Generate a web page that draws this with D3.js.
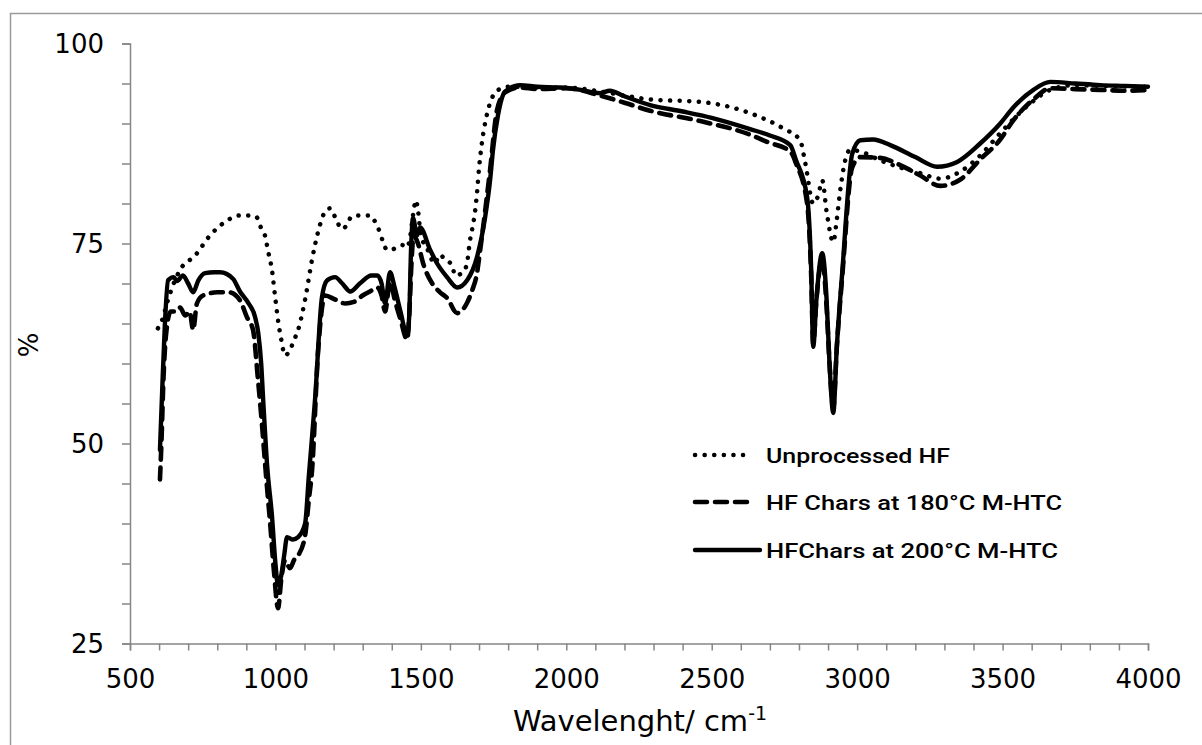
<!DOCTYPE html>
<html><head><meta charset="utf-8">
<script src="https://cdn.jsdelivr.net/npm/d3@7"></script>
<style>body{margin:0;background:#fff}svg{display:block}</style>
</head><body>
<svg id="c" width="1202" height="745"></svg>
<script>
// ---- data (wavenumber in cm-1, transmittance %) ----
const seriesNames = ["Unprocessed HF", "HF Chars at 180\u00B0C M-HTC", "HFChars at 200\u00B0C M-HTC"];

const unprocessedWn = [596,610,631,645,672,724,775,827,878,913,935,950,964,975,988,1000,1009,1020,1033,1050,1065,1078,1102,1126,1153,1171,1188,1205,1215,1230,1245,1260,1274,1300,1325,1336,1360,1370,1384,1405,1436,1453,1463,1473,1483,1490,1500,1520,1548,1565,1583,1607,1618,1645,1659,1669,1676,1687,1694,1700,1704,1731,1766,1807,1900,2000,2116,2200,2288,2461,2653,2745,2804,2822,2849,2866,2880,2895,2918,2930,2942,2959,2976,3011,3079,3148,3217,3286,3355,3423,3492,3595,3664,3750,3836,4000];
const unprocessedPct = [64.4,65.4,68,69.5,71.7,73.5,76,77.7,78.5,78.5,78.3,77,76,74,71.7,68,65.4,63,61,61.7,63,64.2,68,73,77.3,79,79.4,78.3,77.5,76.8,77.3,78.3,78.5,78.5,78.5,78.1,76.3,75.2,74.2,74.3,74.8,74.5,75.8,78.5,80.4,79.2,76,74.5,72.5,73.6,73,72.3,71,71.4,72.6,75.4,76.7,79.2,81.7,84.4,85.8,91.7,94.2,94.6,94.5,94.5,94,93.5,93,92.7,91,89.4,87.9,85,80,81,82.9,79,75.2,78,81.7,85.4,86.7,86.5,85.4,84.5,83.8,83.1,84,86,88.8,92.5,94.2,94.8,94.7,94.6];

const chars180Wn = [603,608,615,625,640,660,672,690,705,717,730,751,800,840,878,902,923,940,950,970,981,995,1009,1020,1033,1050,1065,1078,1102,1115,1126,1147,1171,1205,1240,1270,1300,1325,1350,1365,1377,1394,1410,1430,1453,1460,1467,1475,1490,1508,1539,1566,1590,1625,1659,1676,1693,1704,1738,1762,1790,1841,1900,2000,2116,2200,2288,2461,2632,2690,2770,2790,2828,2842,2849,2860,2880,2895,2905,2918,2930,2949,2983,3011,3079,3148,3217,3286,3355,3423,3492,3537,3606,3664,3750,3836,3920,4000];
const chars180Pct = [45.5,50,58,64,66.5,66.5,67,66,66.5,64.2,67.5,68.5,68.9,68.9,67.9,65.8,64.2,58,54,45,40.4,34,29.4,33,35.4,34.4,35.5,36,38.5,43,46.7,61.7,68.5,68,67.5,67.7,68.5,69,69.5,68.5,66.5,70.2,68,65.5,63,66,72,76,75,72.5,70,68.9,68.2,66.3,67.6,69.1,71.3,74.2,84.2,91.7,93.9,94.5,94.3,94.4,93.5,92.6,91.6,90.3,88.6,87.7,86.5,85,80,71,62.5,68,73,67,60,54.5,62,71,84.5,85.8,85.7,84.8,83.5,82.2,83,85.5,88,90.4,93,94.4,94.3,94.2,94.1,94.2];

const chars200Wn = [603,610,620,631,650,662,682,700,717,735,758,790,810,854,878,906,930,941,951,958,972,988,1000,1009,1020,1030,1040,1060,1078,1102,1115,1136,1160,1178,1205,1230,1257,1290,1330,1350,1365,1377,1394,1410,1430,1453,1460,1466,1473,1487,1497,1532,1556,1590,1625,1659,1693,1721,1738,1748,1765,1790,1841,1900,1979,2050,2116,2150,2200,2288,2400,2500,2632,2700,2770,2790,2828,2842,2849,2860,2880,2895,2905,2918,2930,2949,2983,3011,3055,3114,3200,3275,3344,3423,3492,3537,3606,3664,3750,3836,3920,4000];
const chars200Pct = [49.2,56,65,70.4,70.8,70.3,71,70,68.9,70.4,71.3,71.4,71.4,70.6,69,67.6,65.8,63.8,60,55.4,47,41,35,32.3,33.5,36,38.3,38,38.3,40,46,55.4,68.3,70.4,70.8,70,69,70,71,71,70,67.5,71.4,69.5,66.5,63.5,66,74,78.2,76,77,74.2,72.5,70.8,69.5,70.4,73.3,78.3,82.9,86.7,91,94,94.8,94.6,94.5,94.2,93.8,94.1,93.4,92.3,91.5,90.7,89.3,88.5,87.3,85.4,80.8,71.7,62.1,68,73.8,68,60,53.8,62,71.5,86.2,87.9,88,87.3,85.8,84.6,85.2,87.5,90,92,94.2,95.2,95,94.8,94.7,94.6];

const xTicks = [500,1000,1500,2000,2500,3000,3500,4000];
const yTicks = [25,50,75,100];

// ---- layout ----
const svg = d3.select("#c");
const x = d3.scaleLinear().domain([500,4000]).range([130,1148]);
const y = d3.scaleLinear().domain([25,100]).range([643.5,43.5]);
const axisColor = "#868686";
const labelFont = "'DejaVu Sans', Verdana, sans-serif";

// frame
svg.append("rect").attr("x",10.5).attr("y",13.5).attr("width",1200).attr("height",740)
  .attr("fill","none").attr("stroke","#9a9a9a").attr("stroke-width",1.5);

// y axis
const yAxis = d3.axisLeft(y).tickValues(d3.range(25,100.1,5)).tickSize(8)
  .tickFormat(d => yTicks.includes(d) ? d : "");
const gy = svg.append("g").attr("transform","translate(130,0)").call(yAxis);
gy.select(".domain").attr("stroke",axisColor).attr("stroke-width",1.5);
gy.selectAll(".tick line").attr("stroke",axisColor).attr("stroke-width",1.5);
gy.selectAll(".tick text").attr("font-family",labelFont).attr("font-size",26).attr("fill","#000").attr("x",-26).attr("dy","0.36em");

// x axis
const xAxis = d3.axisBottom(x).tickValues(d3.range(500,4000.1,100)).tickSize(7)
  .tickFormat(d => xTicks.includes(d) ? d : "");
const gx = svg.append("g").attr("transform","translate(0,643.5)").call(xAxis);
gx.select(".domain").attr("stroke",axisColor).attr("stroke-width",1.5);
gx.selectAll(".tick line").attr("stroke",axisColor).attr("stroke-width",1.5);
gx.selectAll(".tick text").attr("font-family",labelFont).attr("font-size",26).attr("fill","#000").attr("y",26).attr("dy","0.71em");

// axis titles
const xt = svg.append("text").attr("x",640).attr("y",731).attr("text-anchor","middle")
  .attr("font-family",labelFont).attr("font-size",29).attr("fill","#000");
xt.append("tspan").text("Wavelenght/ cm");
xt.append("tspan").attr("dy",-11).attr("font-size",19).text("-1");
svg.append("text").attr("transform","translate(38,345) rotate(-90)").attr("text-anchor","middle")
  .attr("font-family",labelFont).attr("font-size",26).attr("fill","#000").text("%");

// lines
const line = d3.line().x(d => x(d[0])).y(d => y(d[1])).curve(d3.curveMonotoneX);
const styles = [
  {dash:"0.1 9.5", w:4.5, cap:"round"},
  {dash:"12 8", w:4.6, cap:"round"},
  {dash:null, w:4.4, cap:"round"}
];
const data = [
  d3.zip(unprocessedWn, unprocessedPct),
  d3.zip(chars180Wn, chars180Pct),
  d3.zip(chars200Wn, chars200Pct)
];
data.forEach((d,i) => {
  svg.append("path").datum(d).attr("d",line).attr("fill","none").attr("stroke","#000")
    .attr("stroke-width",styles[i].w).attr("stroke-linecap",styles[i].cap)
    .attr("stroke-linejoin","round").attr("stroke-dasharray",styles[i].dash);
});

// legend
const legY = [455, 502, 550];
const legEnd = [752, 752, 760];
const legTextW = [184, 296, 292];
seriesNames.forEach((n,i) => {
  svg.append("line").attr("x1",695).attr("x2",legEnd[i]).attr("y1",legY[i]).attr("y2",legY[i])
    .attr("stroke","#000").attr("stroke-width",styles[i].w).attr("stroke-linecap",styles[i].cap)
    .attr("stroke-dasharray",styles[i].dash);
  svg.append("text").attr("x",766).attr("y",legY[i]).attr("dy","0.36em")
    .attr("font-family","'Liberation Sans Narrow','Arial Narrow','Roboto',sans-serif")
    .attr("font-size",21).attr("font-weight",500).attr("fill","#000")
    .attr("textLength",legTextW[i]).attr("lengthAdjust","spacingAndGlyphs").text(n);
});
</script>
</body></html>
